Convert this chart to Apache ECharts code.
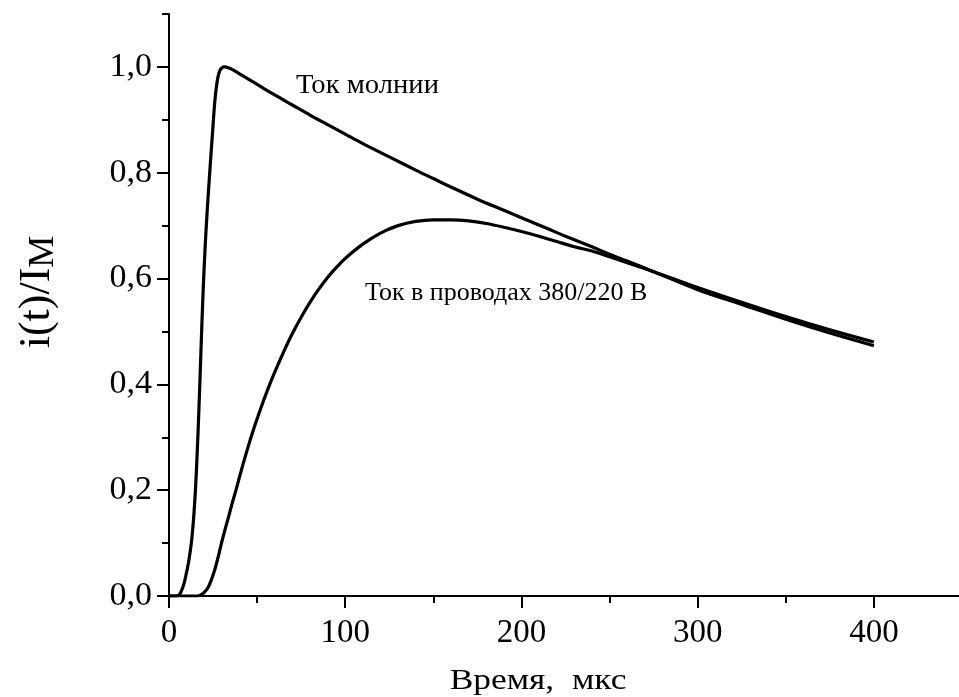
<!DOCTYPE html>
<html><head><meta charset="utf-8">
<script src="https://cdn.jsdelivr.net/npm/echarts@6/dist/echarts.min.js"></script>
<style>html,body{margin:0;padding:0;background:#fff}#c{width:959px;height:697px}</style>
</head><body><div id="c"></div>
<script>
// Lightning current (Ток молнии)
const lightningT = [0,4,6,8,9,10,11,12,13,14,15,16,17,18,19,20,21,22,23,24,25,26,27,28,29,30,31,32,33,34,36,38,40,45,50,60,70,80,90,100,110,125,140,150,160,175,190,200,215,225,240,250,260,275,300,325,350,375,400];
const lightningI = [0,0,0.003,0.018,0.03,0.045,0.062,0.083,0.11,0.148,0.2,0.27,0.355,0.45,0.545,0.625,0.69,0.745,0.795,0.843,0.89,0.935,0.965,0.984,0.994,0.998,1.0,1.0,0.999,0.998,0.995,0.991,0.987,0.977,0.967,0.947,0.928,0.909,0.891,0.873,0.855,0.83,0.805,0.789,0.773,0.75,0.729,0.715,0.694,0.68,0.66,0.646,0.633,0.613,0.579,0.551,0.523,0.497,0.473];
// Current in 380/220 V wires (Ток в проводах 380/220 В)
const wireT = [0,16,18,20,22,24,26,28,30,32,34,36,38,40,44,48,52,56,60,65,70,75,80,85,90,95,100,110,120,130,140,150,160,170,180,190,200,210,220,230,240,250,260,275,300,325,350,375,400];
const wireI = [0,0,0.002,0.007,0.015,0.03,0.05,0.075,0.103,0.128,0.152,0.177,0.2,0.225,0.272,0.315,0.354,0.39,0.423,0.461,0.496,0.527,0.555,0.58,0.602,0.621,0.638,0.665,0.686,0.7,0.708,0.711,0.711,0.709,0.704,0.697,0.689,0.68,0.67,0.66,0.652,0.641,0.63,0.613,0.583,0.555,0.528,0.503,0.48];
const xMajorTicks = [0,100,200,300,400];
const yMajorTicks = [0,0.2,0.4,0.6,0.8,1.0];

const FONT = 'Liberation Serif';
const chart = echarts.init(document.getElementById('c'), null, {renderer:'canvas'});
const lineCol = '#000';
const axBase = {
  type:'value',
  axisLine:{show:true,lineStyle:{color:'#000',width:2}},
  splitLine:{show:false},
};
chart.setOption({
  animation:false,
  backgroundColor:'#fff',
  grid:{left:169,right:-3,top:14,bottom:101,containLabel:false,outerBoundsMode:'none'},
  xAxis:[
    Object.assign({}, axBase, {
      min:0,max:450,interval:100,
      axisTick:{show:true,inside:false,length:12,lineStyle:{color:'#000',width:2},customValues:xMajorTicks},
      axisLabel:{show:true,margin:21,customValues:xMajorTicks,fontFamily:FONT,fontSize:33,color:'#000'}
    }),
    Object.assign({}, axBase, {
      min:0,max:450,interval:50,position:'bottom',
      axisLine:{show:false},
      axisTick:{show:true,inside:false,length:7,lineStyle:{color:'#000',width:2}},
      axisLabel:{show:false}
    })
  ],
  yAxis:[
    Object.assign({}, axBase, {
      min:0,max:1.1,interval:0.2,
      axisTick:{show:true,inside:false,length:12,lineStyle:{color:'#000',width:2},customValues:yMajorTicks},
      axisLabel:{show:true,margin:17,customValues:yMajorTicks,fontFamily:FONT,fontSize:34,color:'#000',
        formatter:v=>v.toFixed(1).replace('.',',')}
    }),
    Object.assign({}, axBase, {
      min:0,max:1.1,interval:0.1,position:'left',
      axisLine:{show:false},
      axisTick:{show:true,inside:false,length:7,lineStyle:{color:'#000',width:2}},
      axisLabel:{show:false}
    })
  ],
  series:[
    {type:'line',name:'Ток молнии',xAxisIndex:0,yAxisIndex:0,showSymbol:false,smooth:0.35,
      lineStyle:{color:lineCol,width:3.2},
      data:lightningT.map((t,i)=>[t,lightningI[i]])},
    {type:'line',name:'Ток в проводах 380/220 В',xAxisIndex:0,yAxisIndex:0,showSymbol:false,smooth:0.35,
      lineStyle:{color:lineCol,width:3.2},
      data:wireT.map((t,i)=>[t,wireI[i]])}
  ],
  graphic:[
    {type:'text',x:296,y:86,scaleX:1.06,style:{text:'Ток молнии',fontFamily:FONT,fontSize:27,fill:'#000',verticalAlign:'middle'}},
    {type:'text',x:365,y:293,style:{text:'Ток в проводах 380/220 В',fontFamily:FONT,fontSize:26,fill:'#000',verticalAlign:'middle'}},
    {type:'text',x:538,y:681,scaleX:1.18,style:{text:'Время,  мкс',fontFamily:FONT,fontSize:30,fill:'#000',align:'center',verticalAlign:'middle'}},
    {type:'text',x:37,y:292,rotation:Math.PI/2,style:{text:'{a|i(t)/I}{b|M}',align:'center',verticalAlign:'middle',fill:'#000',
      rich:{a:{fontFamily:FONT,fontSize:44,fill:'#000'},b:{fontFamily:FONT,fontSize:36,fill:'#000',padding:[14,0,0,0]}}}}
  ]
});
</script></body></html>
